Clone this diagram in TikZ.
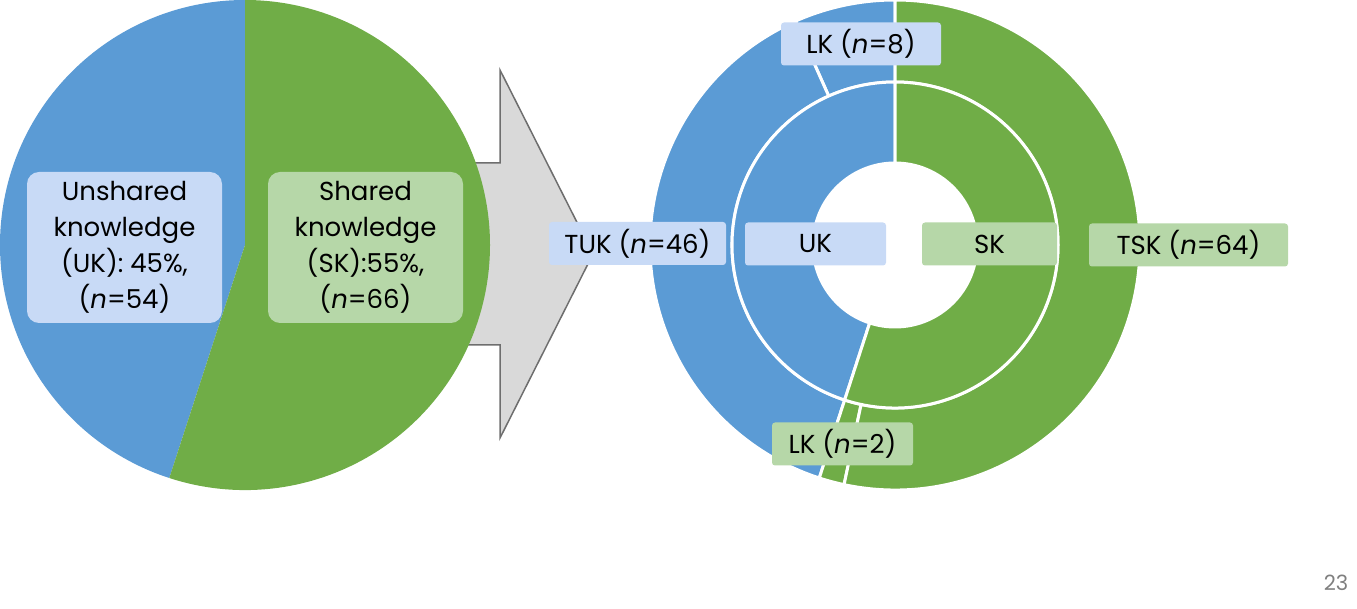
\documentclass[tikz,border=0pt]{standalone}
\usepackage{fontspec}
\setmainfont{Poppins}
\definecolor{cblue}{HTML}{5B9BD5}
\definecolor{cgreen}{HTML}{70AD47}
\definecolor{lblue}{HTML}{C8DAF6}
\definecolor{lgreen}{HTML}{B6D7A8}
\definecolor{arrowgray}{HTML}{D9D9D9}
\definecolor{arrowedge}{HTML}{6E6E6E}
\definecolor{pagegray}{HTML}{7F7F7F}
\tikzset{
  bigbox/.style={rounded corners=12pt, inner sep=0pt, minimum width=195pt, minimum height=151pt, align=center, font=\fontsize{26}{36}\selectfont},
  lbl/.style={rounded corners=3pt, inner sep=0pt, minimum height=43pt, font=\fontsize{26}{30}\selectfont},
  sector/.style={draw=white, line width=3pt, line join=round},
}
\begin{document}
\begin{tikzpicture}[x=1pt,y=1pt]
\useasboundingbox (0,0) rectangle (1357,608);
% arrow
\draw[fill=arrowgray, draw=arrowedge, line width=1.5pt, line join=miter]
  (440,445) -- (500,445) -- (500,538) -- (593,354) -- (500,170) -- (500,263) -- (440,263) -- cycle;
% left pie
\begin{scope}[shift={(245,363)}]
  \fill[cblue] (0,0) -- (90:245) arc[start angle=90, end angle=252, radius=245] -- cycle;
  \fill[cgreen] (0,0) -- (252:245) arc[start angle=252, end angle=450, radius=245] -- cycle;
\end{scope}
\node[bigbox, fill=lblue] (uktext) at (124.5,360.5) {Unshared\\knowledge\\(UK): 45\%,\\(\textit{n}=54)};
\node[bigbox, fill=lgreen] (sktext) at (365.5,360.5) {Shared\\knowledge\\(SK):55\%,\\(\textit{n}=66)};
% donut
\begin{scope}[shift={(895,363)}]
  % outer ring
  \filldraw[sector, fill=cblue] (90:245) arc[start angle=90, end angle=114, radius=245] -- (114:163) arc[start angle=114, end angle=90, radius=163] -- cycle;
  \filldraw[sector, fill=cblue] (114:245) arc[start angle=114, end angle=252, radius=245] -- (252:163) arc[start angle=252, end angle=114, radius=163] -- cycle;
  \filldraw[sector, fill=cgreen] (252:245) arc[start angle=252, end angle=258, radius=245] -- (258:163) arc[start angle=258, end angle=252, radius=163] -- cycle;
  \filldraw[sector, fill=cgreen] (258:245) arc[start angle=258, end angle=450, radius=245] -- (450:163) arc[start angle=450, end angle=258, radius=163] -- cycle;
  % inner ring
  \filldraw[sector, fill=cblue] (90:163) arc[start angle=90, end angle=252, radius=163] -- (252:82) arc[start angle=252, end angle=90, radius=82] -- cycle;
  \filldraw[sector, fill=cgreen] (252:163) arc[start angle=252, end angle=450, radius=163] -- (450:82) arc[start angle=450, end angle=252, radius=82] -- cycle;
\end{scope}
% donut labels
\node[lbl, fill=lblue, minimum width=160pt] (lk8) at (861,564) {LK (\textit{n}=8)};
\node[lbl, fill=lblue, minimum width=177pt] (tuk) at (637.5,364.5) {TUK (\textit{n}=46)};
\node[lbl, fill=lblue, minimum width=141pt] (uk) at (815.5,364) {UK};
\node[lbl, fill=lgreen, minimum width=135pt] (sk) at (989.5,364) {SK};
\node[lbl, fill=lgreen, minimum width=199pt] (tsk) at (1188.5,363) {TSK (\textit{n}=64)};
\node[lbl, fill=lgreen, minimum width=141pt] (lk2) at (842.5,164) {LK (\textit{n}=2)};
% page number
\node[text=pagegray, font=\fontsize{21}{22}\selectfont, inner sep=0pt] (pagenum) at (1336,25) {23};
\end{tikzpicture}
\end{document}
